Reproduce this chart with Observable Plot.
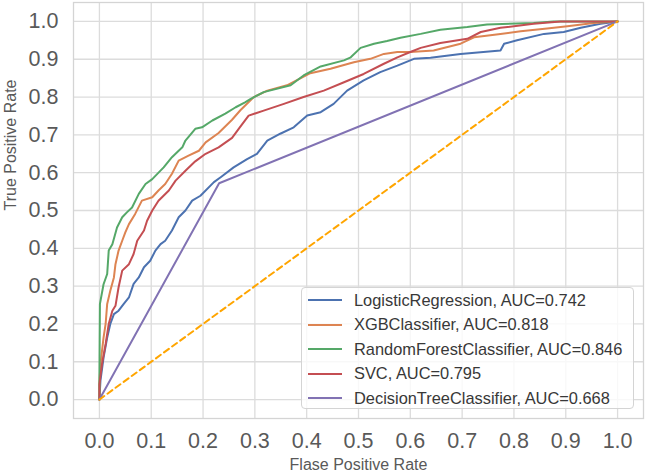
<!DOCTYPE html>
<html>
<head>
<meta charset="utf-8">
<script src="https://cdn.jsdelivr.net/npm/d3@7"></script>
<script src="https://cdn.jsdelivr.net/npm/@observablehq/plot@0.6"></script>
<style>
  body { margin: 0; background: #fff; }
  #wrap { position: relative; width: 645px; height: 474px; font-family: "Liberation Sans", Arial, sans-serif; }
  #legend { position: absolute; left: 301px; top: 287px; width: 331px; height: 120px;
    background: rgba(255,255,255,0.8); border: 1px solid #d4d4d4; border-radius: 4px; }
  .row { display: flex; align-items: center; height: 24.5px; font-size: 16.4px; color: #383838; white-space: nowrap; }
  .sw { width: 34px; height: 2px; margin-left: 6px; margin-right: 12px; }
</style>
</head>
<body>
<div id="wrap"></div>
<script>
// ---- data ----
const modelNames = ["LogisticRegression", "XGBClassifier", "RandomForestClassifier", "SVC", "DecisionTreeClassifier"];
const aucValues = ["0.742", "0.818", "0.846", "0.795", "0.668"];
const modelColors = ["#4c72b0", "#dd8452", "#55a868", "#c44e52", "#8172b3"];
const tickValues = [0, 0.1, 0.2, 0.3, 0.4, 0.5, 0.6, 0.7, 0.8, 0.9, 1.0];

const lrFpr = [0,0.002,0.008,0.015,0.021,0.028,0.037,0.047,0.057,0.066,0.076,0.086,0.098,0.108,0.118,0.127,0.140,0.153,0.166,0.179,0.195,0.221,0.234,0.259,0.285,0.304,0.324,0.349,0.375,0.401,0.427,0.452,0.478,0.510,0.542,0.575,0.607,0.639,0.697,0.774,0.781,0.806,0.858,0.896,0.929,0.967,1];
const lrTpr = [0,0.05,0.111,0.164,0.200,0.226,0.235,0.253,0.270,0.306,0.323,0.350,0.367,0.394,0.411,0.420,0.447,0.482,0.500,0.526,0.539,0.575,0.588,0.614,0.636,0.650,0.685,0.703,0.720,0.751,0.760,0.782,0.817,0.844,0.866,0.883,0.901,0.904,0.914,0.923,0.941,0.950,0.967,0.972,0.983,0.994,1];

const xgbFpr = [0,0,0.002,0.008,0.012,0.015,0.021,0.028,0.031,0.037,0.044,0.050,0.057,0.069,0.082,0.102,0.114,0.127,0.140,0.153,0.172,0.192,0.205,0.230,0.256,0.272,0.298,0.324,0.362,0.407,0.446,0.491,0.523,0.549,0.575,0.600,0.645,0.697,0.723,0.774,0.813,0.864,0.903,0.954,1];
const xgbTpr = [0,0.04,0.094,0.164,0.200,0.253,0.288,0.323,0.358,0.394,0.420,0.442,0.464,0.491,0.526,0.535,0.553,0.570,0.597,0.632,0.645,0.658,0.680,0.705,0.740,0.765,0.800,0.817,0.831,0.863,0.875,0.892,0.901,0.914,0.919,0.919,0.923,0.941,0.958,0.967,0.974,0.981,0.987,0.996,1];

const rfFpr = [0,0,0.001,0.008,0.015,0.018,0.025,0.034,0.044,0.053,0.063,0.076,0.089,0.102,0.124,0.140,0.160,0.166,0.185,0.198,0.218,0.243,0.263,0.281,0.292,0.317,0.369,0.394,0.427,0.472,0.485,0.504,0.530,0.555,0.581,0.620,0.658,0.710,0.748,0.838,0.877,1];
const rfTpr = [0,0.05,0.253,0.305,0.332,0.394,0.411,0.455,0.482,0.495,0.508,0.544,0.570,0.583,0.614,0.641,0.667,0.685,0.716,0.720,0.738,0.756,0.773,0.786,0.795,0.813,0.831,0.857,0.881,0.897,0.905,0.930,0.941,0.948,0.957,0.967,0.978,0.985,0.992,0.996,1,1];

const svcFpr = [0,0,0.005,0.012,0.018,0.025,0.031,0.037,0.044,0.057,0.066,0.073,0.086,0.092,0.102,0.114,0.134,0.147,0.166,0.185,0.205,0.230,0.256,0.272,0.288,0.317,0.356,0.394,0.433,0.472,0.510,0.549,0.575,0.600,0.620,0.658,0.710,0.736,0.774,0.838,0.890,1];
const svcTpr = [0,0.04,0.094,0.147,0.200,0.235,0.248,0.297,0.341,0.358,0.385,0.420,0.447,0.473,0.500,0.526,0.553,0.579,0.605,0.630,0.650,0.667,0.692,0.722,0.751,0.764,0.782,0.800,0.817,0.839,0.861,0.888,0.905,0.919,0.930,0.943,0.954,0.972,0.983,0.994,1,1];

const dtFpr = [0, 0.231, 1];
const dtTpr = [0, 0.572, 1];

const chanceFpr = [0, 1];
const chanceTpr = [0, 1];

// ---- build table ----
const seriesFpr = [lrFpr, xgbFpr, rfFpr, svcFpr, dtFpr];
const seriesTpr = [lrTpr, xgbTpr, rfTpr, svcTpr, dtTpr];
const rows = [];
modelNames.forEach((name, i) => {
  seriesFpr[i].forEach((f, j) => rows.push({model: name, fpr: f, tpr: seriesTpr[i][j]}));
});
const chance = chanceFpr.map((f, j) => ({fpr: f, tpr: chanceTpr[j]}));

const gridStyle = {stroke: "#dcdcdc", strokeOpacity: 1, strokeWidth: 1.3};
const chart = Plot.plot({
  width: 645,
  height: 474,
  marginLeft: 73,
  marginRight: 2,
  marginTop: 2,
  marginBottom: 56,
  style: {fontFamily: "'Liberation Sans', Arial, sans-serif", background: "#fff"},
  x: {domain: [-0.05, 1.05]},
  y: {domain: [-0.05, 1.05]},
  color: {domain: modelNames, range: modelColors},
  marks: [
    Plot.gridX(tickValues, gridStyle),
    Plot.gridY(tickValues, gridStyle),
    Plot.frame({stroke: "#d4d4d4", strokeWidth: 1.3}),
    Plot.axisX(tickValues, {tickSize: 0, tickPadding: 14, fontSize: 21.5, fill: "#595959", tickFormat: d => d.toFixed(1), label: null}),
    Plot.axisY(tickValues, {tickSize: 0, tickPadding: 15, fontSize: 21.5, fill: "#595959", tickFormat: d => d.toFixed(1), label: null}),
    Plot.line(rows, {x: "fpr", y: "tpr", z: "model", stroke: "model", strokeWidth: 2}),
    Plot.line(chance, {x: "fpr", y: "tpr", stroke: "#ffa500", strokeWidth: 2, strokeDasharray: "6,4"}),
    Plot.text(["Flase Positive Rate"], {frameAnchor: "bottom", dy: 51, fontSize: 16, fill: "#595959"}),
    Plot.text(["True Positive Rate"], {frameAnchor: "left", dx: -63, rotate: -90, fontSize: 16, fill: "#595959"})
  ]
});
const wrap = document.getElementById("wrap");
wrap.appendChild(chart);

// legend overlay
const legend = document.createElement("div");
legend.id = "legend";
modelNames.forEach((name, i) => {
  const row = document.createElement("div");
  row.className = "row";
  const sw = document.createElement("span");
  sw.className = "sw";
  sw.style.background = modelColors[i];
  const t = document.createElement("span");
  t.textContent = `${name}, AUC=${aucValues[i]}`;
  row.appendChild(sw);
  row.appendChild(t);
  legend.appendChild(row);
});
wrap.appendChild(legend);
</script>
</body>
</html>
